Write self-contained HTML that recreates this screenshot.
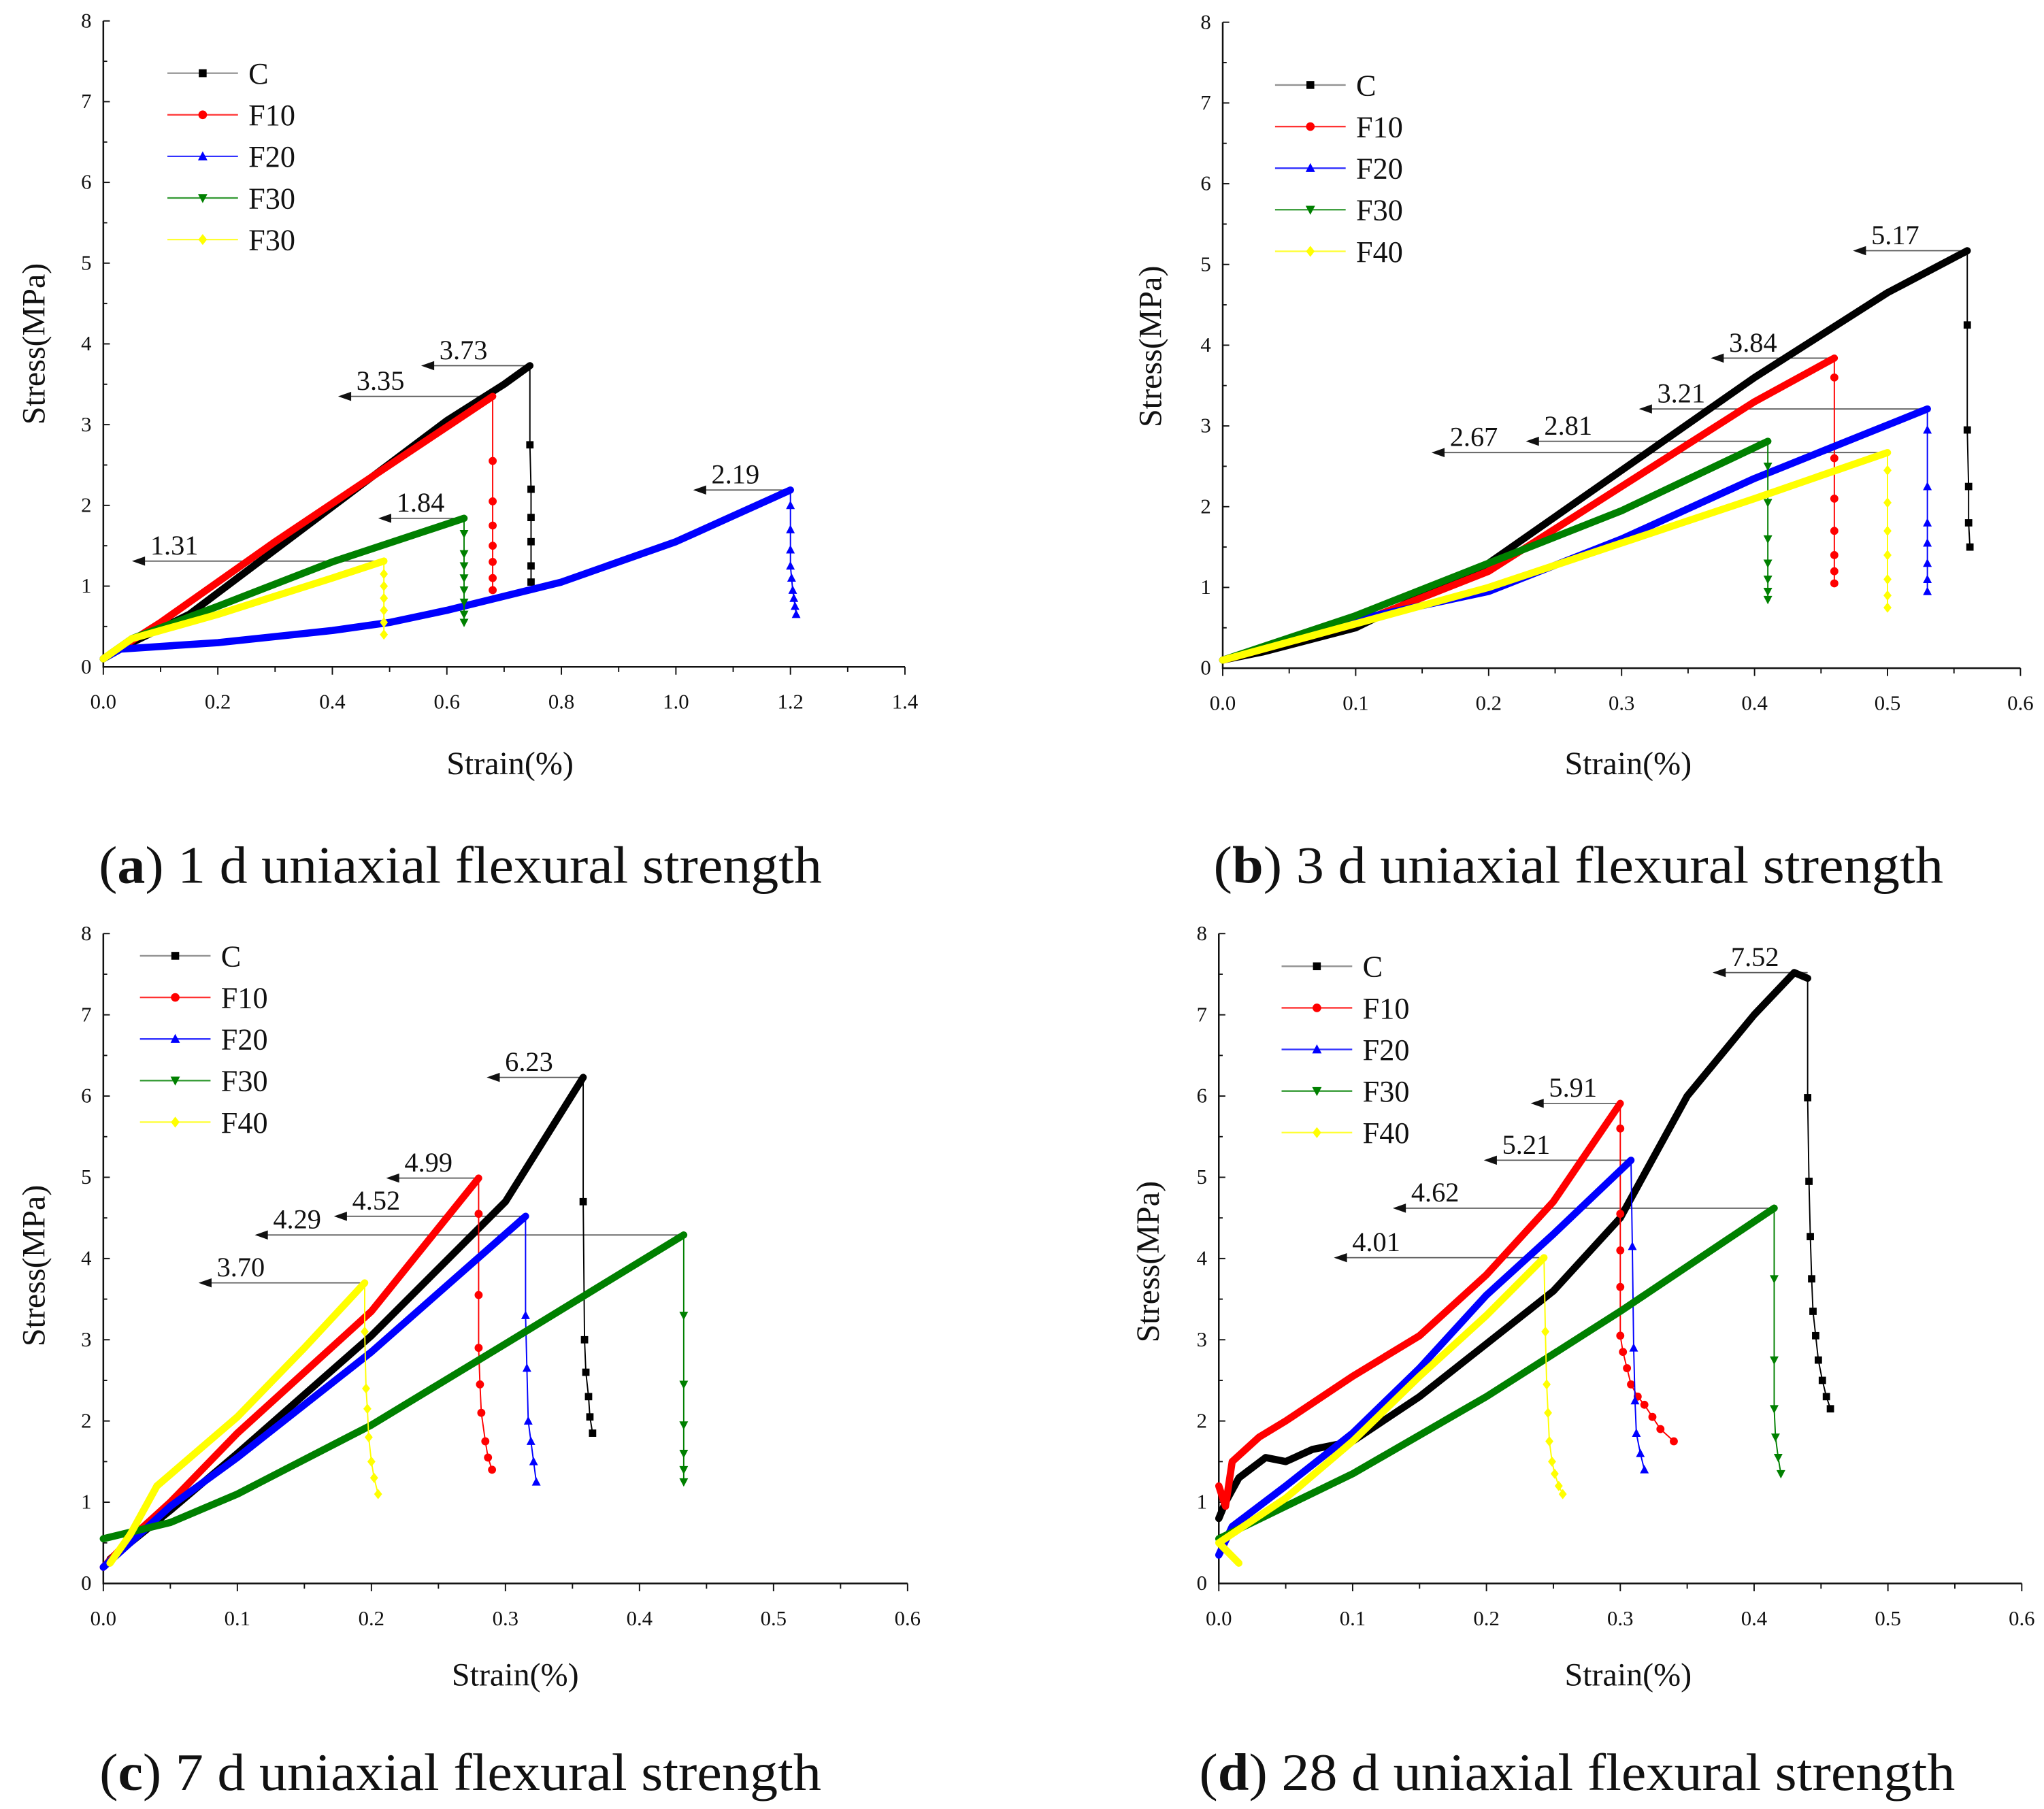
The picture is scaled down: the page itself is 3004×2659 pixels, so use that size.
<!DOCTYPE html>
<html><head><meta charset="utf-8"><style>
html,body{margin:0;padding:0;background:#fff;}
svg{display:block;}
svg text{font-family:"Liberation Serif","Times New Roman",serif !important;fill:#111;}
</style></head><body>
<svg id="fig" xmlns="http://www.w3.org/2000/svg" width="3004" height="2659" viewBox="0 0 1563 1383.5" font-family="Liberation Serif, serif"></svg>
<script>
// ---------- DATA ----------
const ticksY = [0,1,2,3,4,5,6,7,8];
const ticksXa = [0.0,0.2,0.4,0.6,0.8,1.0,1.2,1.4];
const ticksXb = [0.0,0.1,0.2,0.3,0.4,0.5,0.6];
const seriesNames = ["C","F10","F20","F30","F40"];
const legendA = ["C","F10","F20","F30","F30"];

// panel a (1 d)
const aC   = [[0,0.1],[0.05,0.3],[0.15,0.65],[0.3,1.45],[0.45,2.25],[0.6,3.05],[0.7,3.5],[0.745,3.73]];
const aCd  = [[0.745,3.73],[0.745,2.75],[0.747,2.2],[0.747,1.85],[0.747,1.55],[0.747,1.25],[0.747,1.05]];
const aF10 = [[0,0.1],[0.1,0.55],[0.3,1.55],[0.5,2.5],[0.68,3.35]];
const aF10d= [[0.68,3.35],[0.68,2.55],[0.68,2.05],[0.68,1.75],[0.68,1.5],[0.68,1.3],[0.68,1.1],[0.68,0.95]];
const aF20 = [[0,0.1],[0.03,0.22],[0.2,0.3],[0.4,0.45],[0.5,0.55],[0.6,0.7],[0.8,1.05],[1.0,1.55],[1.2,2.19]];
const aF20d= [[1.2,2.19],[1.2,2.0],[1.2,1.7],[1.2,1.45],[1.2,1.25],[1.202,1.1],[1.204,0.95],[1.206,0.85],[1.208,0.75],[1.21,0.65]];
const aF30 = [[0,0.1],[0.05,0.35],[0.2,0.75],[0.4,1.3],[0.63,1.84]];
const aF30d= [[0.63,1.84],[0.63,1.65],[0.63,1.4],[0.63,1.25],[0.63,1.1],[0.63,0.95],[0.63,0.8],[0.63,0.65],[0.63,0.55]];
const aF40 = [[0,0.1],[0.05,0.35],[0.2,0.65],[0.4,1.1],[0.49,1.31]];
const aF40d= [[0.49,1.31],[0.49,1.15],[0.49,1.0],[0.49,0.85],[0.49,0.7],[0.49,0.55],[0.49,0.4]];
const aPeakVal = [3.73,3.35,2.19,1.84,1.31];
const aPeakX   = [0.745,0.68,1.2,0.63,0.49];
const aArrowX  = [0.555,0.41,1.03,0.48,0.05];

// panel b (3 d)
const bC   = [[0,0.1],[0.03,0.2],[0.1,0.5],[0.2,1.3],[0.3,2.45],[0.4,3.6],[0.5,4.65],[0.56,5.17]];
const bCd  = [[0.56,5.17],[0.56,4.25],[0.56,2.95],[0.561,2.25],[0.561,1.8],[0.562,1.5]];
const bF10 = [[0,0.1],[0.1,0.55],[0.2,1.2],[0.3,2.25],[0.4,3.3],[0.46,3.84]];
const bF10d= [[0.46,3.84],[0.46,3.6],[0.46,2.6],[0.46,2.1],[0.46,1.7],[0.46,1.4],[0.46,1.2],[0.46,1.05]];
const bF20 = [[0,0.1],[0.1,0.6],[0.2,0.95],[0.3,1.6],[0.4,2.35],[0.53,3.21]];
const bF20d= [[0.53,3.21],[0.53,2.95],[0.53,2.25],[0.53,1.8],[0.53,1.55],[0.53,1.3],[0.53,1.1],[0.53,0.95]];
const bF30 = [[0,0.1],[0.1,0.65],[0.2,1.3],[0.3,1.95],[0.41,2.81]];
const bF30d= [[0.41,2.81],[0.41,2.5],[0.41,2.05],[0.41,1.6],[0.41,1.3],[0.41,1.1],[0.41,0.95],[0.41,0.85]];
const bF40 = [[0,0.1],[0.1,0.55],[0.2,1.0],[0.3,1.55],[0.4,2.1],[0.5,2.67]];
const bF40d= [[0.5,2.67],[0.5,2.45],[0.5,2.05],[0.5,1.7],[0.5,1.4],[0.5,1.1],[0.5,0.9],[0.5,0.75]];
const bPeakVal = [5.17,3.84,3.21,2.81,2.67];
const bPeakX   = [0.56,0.46,0.53,0.41,0.5];
const bArrowX  = [0.474,0.367,0.313,0.228,0.157];

// panel c (7 d)
const cC   = [[0.005,0.3],[0.02,0.5],[0.05,0.9],[0.1,1.6],[0.2,3.05],[0.3,4.7],[0.358,6.23]];
const cCd  = [[0.358,6.23],[0.358,4.7],[0.359,3.0],[0.36,2.6],[0.362,2.3],[0.363,2.05],[0.365,1.85]];
const cF10 = [[0,0.2],[0.02,0.55],[0.05,1.0],[0.1,1.85],[0.2,3.35],[0.28,4.99]];
const cF10d= [[0.28,4.99],[0.28,4.55],[0.28,3.55],[0.28,2.9],[0.281,2.45],[0.282,2.1],[0.285,1.75],[0.287,1.55],[0.29,1.4]];
const cF20 = [[0,0.2],[0.05,0.95],[0.1,1.55],[0.2,2.85],[0.315,4.52]];
const cF20d= [[0.315,4.52],[0.315,3.3],[0.316,2.65],[0.317,2.0],[0.319,1.75],[0.321,1.5],[0.323,1.25]];
const cF30 = [[0,0.55],[0.05,0.75],[0.1,1.1],[0.2,1.95],[0.3,2.95],[0.433,4.29]];
const cF30d= [[0.433,4.29],[0.433,3.3],[0.433,2.45],[0.433,1.95],[0.433,1.6],[0.433,1.4],[0.433,1.25]];
const cF40 = [[0.005,0.25],[0.02,0.6],[0.04,1.2],[0.1,2.05],[0.15,2.9],[0.195,3.70]];
const cF40d= [[0.195,3.70],[0.195,3.1],[0.196,2.4],[0.197,2.15],[0.198,1.8],[0.2,1.5],[0.202,1.3],[0.205,1.1]];
const cPeakVal = [6.23,4.99,4.52,4.29,3.70];
const cPeakX   = [0.358,0.28,0.315,0.433,0.195];
const cArrowX  = [0.286,0.211,0.172,0.113,0.071];

// panel d (28 d)
const dC   = [[0,0.8],[0.005,1.0],[0.015,1.3],[0.035,1.55],[0.05,1.5],[0.07,1.65],[0.1,1.75],[0.15,2.3],[0.2,2.95],[0.25,3.6],[0.3,4.5],[0.35,6.0],[0.4,7.0],[0.43,7.52],[0.44,7.45]];
const dCd  = [[0.44,7.45],[0.44,5.98],[0.441,4.95],[0.442,4.27],[0.443,3.75],[0.444,3.35],[0.446,3.05],[0.448,2.75],[0.451,2.5],[0.454,2.3],[0.457,2.15]];
const dF10 = [[0,1.2],[0.005,0.95],[0.01,1.5],[0.03,1.8],[0.05,2.0],[0.1,2.55],[0.15,3.05],[0.2,3.8],[0.25,4.7],[0.3,5.91]];
const dF10d= [[0.3,5.91],[0.3,5.6],[0.3,4.55],[0.3,4.1],[0.3,3.65],[0.3,3.05],[0.302,2.85],[0.305,2.65],[0.308,2.45],[0.313,2.3],[0.318,2.2],[0.324,2.05],[0.33,1.9],[0.34,1.75]];
const dF20 = [[0,0.35],[0.01,0.7],[0.05,1.2],[0.1,1.85],[0.15,2.65],[0.2,3.55],[0.25,4.3],[0.308,5.21]];
const dF20d= [[0.308,5.21],[0.309,4.15],[0.31,2.9],[0.311,2.25],[0.312,1.85],[0.315,1.6],[0.318,1.4]];
const dF30 = [[0,0.55],[0.05,0.95],[0.1,1.35],[0.2,2.3],[0.3,3.35],[0.415,4.62]];
const dF30d= [[0.415,4.62],[0.415,3.75],[0.415,2.75],[0.415,2.15],[0.416,1.8],[0.418,1.55],[0.42,1.35]];
const dF40 = [[0.015,0.25],[0,0.5],[0.05,1.05],[0.1,1.75],[0.15,2.55],[0.2,3.3],[0.243,4.01]];
const dF40d= [[0.243,4.01],[0.244,3.1],[0.245,2.45],[0.246,2.1],[0.247,1.75],[0.249,1.5],[0.251,1.35],[0.254,1.2],[0.257,1.1]];
const dPeakVal = [7.52,5.91,5.21,4.62,4.01];
const dPeakX   = [0.44,0.3,0.308,0.415,0.243];
const dArrowX  = [0.369,0.233,0.198,0.13,0.086];

// ---------- DRAWING ----------
const NS = "http://www.w3.org/2000/svg";
const svg = document.getElementById("fig");
const colors = ["#000000","#ff0000","#0000ff","#008000","#ffff00"];
const FONT = '"Liberation Serif", serif';
function el(tag, attrs, parent){
  const e = document.createElementNS(NS, tag);
  for (const k in attrs) e.setAttribute(k, attrs[k]);
  if (tag === "text") e.style.fontFamily = FONT;
  (parent||svg).appendChild(e);
  return e;
}
function marker(g, idx, x, y, s){
  let m;
  const c = colors[idx];
  if (idx===0) m = el("rect",{x:x-s,y:y-s,width:2*s,height:2*s,fill:c},g);
  else if (idx===1) m = el("circle",{cx:x,cy:y,r:s*1.1,fill:c},g);
  else if (idx===2) m = el("polygon",{points:`${x},${y-s*1.3} ${x-s*1.2},${y+s} ${x+s*1.2},${y+s}`,fill:c},g);
  else if (idx===3) m = el("polygon",{points:`${x},${y+s*1.3} ${x-s*1.2},${y-s} ${x+s*1.2},${y-s}`,fill:c},g);
  else m = el("polygon",{points:`${x},${y-s*1.4} ${x-s*1.1},${y} ${x},${y+s*1.4} ${x+s*1.1},${y}`,fill:c},g);
  
  
  return m;
}

function panel(id, cfg, curves, drops, peakVal, peakX, arrowX, legendNames){
  const g = el("g",{});
  
  
  const sx = v => cfg.px0 + v / cfg.xmax * (cfg.px1 - cfg.px0);
  const sy = v => cfg.py0 - v / 8 * (cfg.py0 - cfg.py1);

  const ax = el("path",{d:`M${cfg.px0},${cfg.py1} L${cfg.px0},${cfg.py0} L${cfg.px1},${cfg.py0}`,stroke:"#111","stroke-width":1.3,fill:"none"},g);
  
  
  ticksY.forEach(t=>{
    el("line",{x1:cfg.px0,x2:cfg.px0+5,y1:sy(t),y2:sy(t),stroke:"#111","stroke-width":1},g);
    if (t<8) el("line",{x1:cfg.px0,x2:cfg.px0+3,y1:sy(t+0.5),y2:sy(t+0.5),stroke:"#111","stroke-width":1},g);
    const tl = el("text",{x:cfg.px0-9,y:sy(t)+5,"text-anchor":"end","font-size":16},g);
    tl.textContent = String(t);
    
    
  });
  const tx = cfg.ticks;
  const step = tx[1]-tx[0];
  tx.forEach((t,i)=>{
    el("line",{x1:sx(t),x2:sx(t),y1:cfg.py0,y2:cfg.py0+6,stroke:"#111","stroke-width":1},g);
    if (i<tx.length-1) el("line",{x1:sx(t+step/2),x2:sx(t+step/2),y1:cfg.py0,y2:cfg.py0+4,stroke:"#111","stroke-width":1},g);
    const tl = el("text",{x:sx(t),y:cfg.py0+32,"text-anchor":"middle","font-size":16},g);
    tl.textContent = t.toFixed(1);
    
    
  });
  const yt = el("text",{x:0,y:0,"font-size":25,"text-anchor":"middle",transform:`translate(${cfg.ytx},${cfg.yty}) rotate(-90)`},g);
  yt.textContent = "Stress(MPa)";
  
  
  const xt = el("text",{x:cfg.xtx,y:cfg.xty,"font-size":25,"text-anchor":"middle"},g);
  xt.textContent = "Strain(%)";
  
  

  peakVal.forEach((v,i)=>{
    const y = sy(v);
    const ln = el("line",{x1:sx(peakX[i]),x2:sx(arrowX[i])+6,y1:y,y2:y,stroke:"#555","stroke-width":0.9},g);
    
    
    const ar = el("polygon",{points:`${sx(arrowX[i])},${y} ${sx(arrowX[i])+10},${y-3.5} ${sx(arrowX[i])+10},${y+3.5}`,fill:"#111"},g);
    
    
    const lt = el("text",{x:sx(arrowX[i])+14,y:y-5,"font-size":21},g);
    lt.textContent = v.toFixed(2);
    
    
  });

  curves.forEach((pts,i)=>{
    const cg = el("g",{},g);
    
    
    const d = pts.map((p,j)=>(j?"L":"M")+sx(p[0]).toFixed(2)+","+sy(p[1]).toFixed(2)).join(" ");
    el("path",{d:d,stroke:colors[i],"stroke-width":5.5,fill:"none","stroke-linejoin":"round","stroke-linecap":"round"},cg);
    const dd = drops[i].map((p,j)=>(j?"L":"M")+sx(p[0]).toFixed(2)+","+sy(p[1]).toFixed(2)).join(" ");
    el("path",{d:dd,stroke:colors[i],"stroke-width":1,fill:"none"},cg);
    drops[i].forEach((p,j)=>{ if(j>0) marker(cg,i,sx(p[0]),sy(p[1]),2.8); });
  });

  const lg = el("g",{},g);
  
  
  legendNames.forEach((n,i)=>{
    const y = cfg.ly + i*31.8;
    const c = i===0 ? "#777" : colors[i];
    el("line",{x1:cfg.lx,x2:cfg.lx+54,y1:y,y2:y,stroke:c,"stroke-width":1.2,opacity:0.8},lg);
    marker(lg,i,cfg.lx+27,y,3);
    const t = el("text",{x:cfg.lx+62,y:y+8,"font-size":23},lg);
    t.textContent = n;
    
    
  });

  const cap = el("text",{x:cfg.capx,y:cfg.capy,"text-anchor":"middle","font-size":40,textLength:cfg.capw,lengthAdjust:"spacingAndGlyphs"},g);
  cap.innerHTML = `(<tspan font-weight="bold">${id}</tspan>) ${cfg.cap}`;
  
  
}

panel("a",{px0:79,px1:692,py0:510,py1:16,xmax:1.4,ticks:ticksXa,ytx:34,yty:263,xtx:390,xty:592,lx:128,ly:56,capx:352,capy:675,capw:553,cap:"1 d uniaxial flexural strength"},
  [aC,aF10,aF20,aF30,aF40],[aCd,aF10d,aF20d,aF30d,aF40d],aPeakVal,aPeakX,aArrowX,legendA);
panel("b",{px0:935,px1:1545,py0:511,py1:17,xmax:0.6,ticks:ticksXb,ytx:888,yty:265,xtx:1245,xty:592,lx:975,ly:65,capx:1207,capy:675,capw:558,cap:"3 d uniaxial flexural strength"},
  [bC,bF10,bF20,bF30,bF40],[bCd,bF10d,bF20d,bF30d,bF40d],bPeakVal,bPeakX,bArrowX,seriesNames);
panel("c",{px0:79,px1:694,py0:1211,py1:714,xmax:0.6,ticks:ticksXb,ytx:34,yty:968,xtx:394,xty:1289,lx:107,ly:731,capx:352,capy:1369,capw:552,cap:"7 d uniaxial flexural strength"},
  [cC,cF10,cF20,cF30,cF40],[cCd,cF10d,cF20d,cF30d,cF40d],cPeakVal,cPeakX,cArrowX,seriesNames);
panel("d",{px0:932,px1:1546,py0:1211,py1:714,xmax:0.6,ticks:ticksXb,ytx:886,yty:965,xtx:1245,xty:1289,lx:980,ly:739,capx:1206,capy:1369,capw:578,cap:"28 d uniaxial flexural strength"},
  [dC,dF10,dF20,dF30,dF40],[dCd,dF10d,dF20d,dF30d,dF40d],dPeakVal,dPeakX,dArrowX,seriesNames);
</script>
</body></html>
